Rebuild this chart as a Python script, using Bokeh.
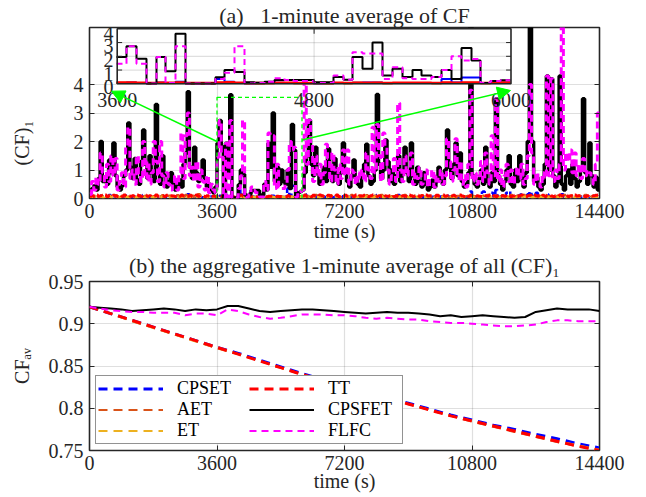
import numpy as np
from bokeh.plotting import figure
from bokeh.models import (Range1d, FixedTicker, LinearAxis, Arrow, NormalHead,
                          Legend, LegendItem, CustomJSTickFormatter, Title)
from bokeh.layouts import column
from bokeh.core.properties import value
from bokeh.embed import file_html
from bokeh.resources import INLINE

# ---------------- data ----------------
N_MIN = 240                      # 1-minute bins over 14400 s
XTICKS = [0, 3600, 7200, 10800, 14400]
Y1_TICKS = [0, 1, 2, 3, 4]
Y2_TICKS = [0.75, 0.8, 0.85, 0.9, 0.95]
INSET_XTICKS = [3600, 4800, 6000]
INSET_YTICKS = [0, 1, 2, 3, 4]
INSET_X = (3600, 6000)
INSET_Y = (0, 4)

CPSFET_1 = [
 0.3,0.35,0.45,0.3,0.7,2.0,0.6,0.75,0.5,1.35, 0.9,1.95,0.8,0.4,0.3,0.45,0.8,1.0,2.65,1.1,
 0.7,1.4,0.65,0.5,1.3,2.4,1.2,0.7,1.5,0.9, 0.6,3.3,1.0,0.5,1.5,0.8,0.4,0.6,0.9,0.5,
 0.3,0.5,0.65,0.4,1.2,1.6,3.75,1.1,0.7,1.8, 0.9,0.6,0.8,1.35,0.7,0.4,0.5,0.3,0.2,0.4,
 1.94,2.74,1.82,0.02,1.94,0.92,3.64,0.02,0.02,0.02, 0.48,1.0,0.85,0.12,0.07,0.15,0.28,0.28,0.28,0.28,
 0.12,0.12,0.5,0.3,1.94,1.1,3.0,0.6,1.1,0.5, 1.0,0.6,0.5,1.0,0.35,2.6,1.7,0.05,0.2,0.25,
 0.3,0.9,1.5,2.75,1.2,0.8,1.8,0.9,0.5,0.7, 1.1,0.6,1.75,0.9,0.6,1.4,0.8,0.5,0.9,1.95,
 1.0,0.6,0.4,0.8,1.35,0.7,0.5,0.4,0.9,1.2, 1.9,0.8,0.5,0.6,1.0,3.65,1.2,0.7,1.0,2.05,
 1.3,0.6,1.0,0.5,0.8,1.5,0.6,0.9,1.8,0.9, 0.6,1.95,0.8,0.5,1.1,0.6,0.4,0.9,0.5,0.3,
 0.4,0.65,0.4,0.6,1.1,0.7,0.5,1.0,2.4,1.1, 0.7,1.2,1.95,0.8,1.6,0.6,0.4,0.5,0.9,6.5,
 0.8,0.5,0.4,0.7,1.0,0.5,1.8,0.6,0.4,0.9, 0.6,3.5,0.8,0.5,0.3,0.6,1.0,1.5,0.5,0.4,
 1.0,0.6,1.5,0.7,0.4,0.9,2.0,6.5,2.0,0.6, 0.75,0.4,0.3,0.5,1.2,4.3,1.0,4.2,0.8,0.4,
 0.6,4.3,0.5,0.3,0.8,1.0,0.5,1.2,0.7,0.4, 0.6,1.0,3.5,0.9,0.5,1.95,0.8,0.4,0.75,0.3]

FLFC_1 = [
 0.15,0.6,0.3,0.75,0.5,1.6,0.9,0.4,1.2,0.6, 1.5,0.8,1.4,0.3,0.6,0.9,0.4,1.8,2.5,0.7,
 1.0,0.5,1.5,0.8,0.6,2.0,0.7,1.3,0.5,0.9, 2.0,1.3,0.6,2.0,0.8,0.4,0.9,0.5,0.3,0.6,
 0.8,0.3,0.9,2.3,0.7,2.2,3.0,0.8,1.1,0.6, 1.3,0.4,1.0,0.6,0.3,0.8,0.2,0.5,0.3,0.2,
 1.45,2.74,1.45,0.02,1.94,0.05,2.74,0.02,0.02,0.02, 0.35,0.8,2.74,0.02,0.05,0.15,0.4,0.28,0.2,0.2,
 0.05,0.05,0.6,0.3,2.3,2.2,2.2,0.35,1.2,0.4, 0.35,0.35,0.5,1.0,2.0,1.7,1.8,0.05,0.2,0.25,
 0.3,4.5,1.2,2.75,2.0,0.6,1.5,0.8,1.2,0.5, 0.9,1.9,1.4,0.6,1.6,1.0,0.5,1.2,0.7,1.7,
 0.8,1.7,0.5,1.0,0.9,0.5,0.9,0.7,1.0,0.6, 1.6,1.0,0.7,2.5,0.9,2.6,1.5,0.6,2.3,1.8,
 1.0,0.5,0.8,1.4,0.6,3.35,1.0,0.6,1.5,0.8, 1.0,1.6,0.5,0.9,0.7,1.1,0.5,0.6,1.0,0.4,
 0.7,1.0,0.4,0.8,0.6,1.0,0.5,0.8,2.1,1.3, 0.6,1.0,2.1,0.7,1.3,0.5,0.8,0.4,1.2,3.8,
 0.6,0.9,0.5,0.8,1.3,0.6,1.6,0.9,0.5,2.2, 0.8,3.5,0.6,1.0,0.4,0.8,1.2,0.6,1.0,0.5,
 0.8,1.1,0.7,1.2,0.5,0.7,1.5,4.0,1.6,0.5, 0.9,0.6,0.4,0.9,0.7,4.3,0.8,4.2,0.6,1.0,
 0.7,1.2,6.5,1.0,1.6,1.3,1.7,0.9,1.6,0.8, 1.2,0.7,1.4,0.8,1.0,0.9,0.7,0.5,1.2,3.0]

CPSET_1 = [
 0.05,0.04,0.06,0.05,0.08,0.1,0.05,0.04,0.06,0.12, 0.05,0.04,0.08,0.05,0.04,0.06,0.05,0.1,0.07,0.05,
 0.04,0.06,0.05,0.08,0.05,0.12,0.06,0.04,0.05,0.07, 0.05,0.1,0.06,0.04,0.05,0.08,0.05,0.04,0.06,0.05,
 0.04,0.05,0.07,0.05,0.09,0.06,0.15,0.05,0.04,0.06, 0.05,0.08,0.05,0.04,0.06,0.05,0.04,0.07,0.05,0.04,
 0.05,0.1,0.05,0.02,0.1,0.05,0.15,0.02,0.02,0.03, 0.35,0.15,0.05,0.03,0.03,0.05,0.08,0.06,0.05,0.05,
 0.03,0.03,0.05,0.05,0.08,0.1,0.1,0.05,0.06,0.05, 0.05,0.05,0.06,0.35,0.1,0.45,0.45,0.05,0.05,0.06,
 0.05,0.15,0.06,0.08,0.05,0.04,0.06,0.1,0.05,0.04, 0.06,0.05,0.08,0.05,0.04,0.05,0.06,0.05,0.04,0.08,
 0.05,0.04,0.06,0.05,0.1,0.05,0.04,0.06,0.05,0.05, 0.08,0.05,0.04,0.06,0.05,0.12,0.05,0.04,0.06,0.1,
 0.05,0.04,0.05,0.06,0.05,0.12,0.05,0.04,0.08,0.05, 0.04,0.06,0.05,0.04,0.05,0.07,0.05,0.04,0.06,0.05,
 0.04,0.06,0.05,0.04,0.05,0.07,0.05,0.04,0.1,0.06, 0.05,0.06,0.08,0.05,0.07,0.05,0.04,0.05,0.06,0.25,
 0.05,0.04,0.06,0.05,0.2,0.25,0.08,0.05,0.15,0.2, 0.05,0.3,0.06,0.05,0.04,0.05,0.2,0.25,0.05,0.04,
 0.06,0.05,0.2,0.05,0.04,0.05,0.15,0.25,0.1,0.05, 0.2,0.05,0.04,0.05,0.06,0.15,0.05,0.12,0.05,0.04,
 0.05,0.1,0.15,0.05,0.06,0.08,0.05,0.07,0.05,0.04, 0.05,0.06,0.12,0.05,0.04,0.08,0.05,0.04,0.05,0.05]

AET_1 = [
 0.06,0.08,0.1,0.07,0.05,0.09,0.12,0.06,0.08,0.1, 0.07,0.06,0.11,0.08,0.05,0.09,0.07,0.12,0.06,0.08,
 0.09,0.06,0.08,0.11,0.07,0.05,0.1,0.08,0.12,0.06, 0.08,0.09,0.05,0.07,0.11,0.08,0.06,0.1,0.07,0.05,
 0.08,0.11,0.06,0.09,0.07,0.12,0.05,0.08,0.1,0.06, 0.07,0.15,0.09,0.06,0.08,0.05,0.1,0.07,0.06,0.09,
 0.08,0.08,0.06,0.04,0.07,0.06,0.08,0.04,0.04,0.04, 0.08,0.1,0.06,0.04,0.04,0.05,0.06,0.06,0.05,0.05,
 0.05,0.04,0.06,0.05,0.07,0.06,0.07,0.05,0.06,0.06, 0.06,0.06,0.05,0.08,0.06,0.08,0.08,0.05,0.06,0.08,
 0.07,0.1,0.06,0.09,0.05,0.08,0.12,0.07,0.06,0.1, 0.08,0.05,0.09,0.11,0.07,0.06,0.1,0.08,0.05,0.09,
 0.06,0.09,0.07,0.12,0.08,0.05,0.1,0.06,0.09,0.07, 0.11,0.06,0.08,0.05,0.1,0.07,0.09,0.12,0.06,0.08,
 0.1,0.06,0.08,0.05,0.11,0.07,0.09,0.06,0.12,0.08, 0.05,0.09,0.07,0.1,0.06,0.08,0.11,0.05,0.07,0.09,
 0.07,0.1,0.06,0.08,0.12,0.05,0.09,0.07,0.11,0.06, 0.08,0.1,0.05,0.09,0.07,0.12,0.06,0.08,0.1,0.07,
 0.09,0.06,0.11,0.07,0.08,0.1,0.05,0.12,0.07,0.09, 0.06,0.1,0.08,0.05,0.11,0.07,0.09,0.06,0.12,0.08,
 0.06,0.1,0.08,0.05,0.12,0.09,0.07,0.1,0.06,0.08, 0.11,0.05,0.09,0.07,0.12,0.06,0.08,0.1,0.07,0.05,
 0.1,0.07,0.09,0.12,0.06,0.08,0.05,0.11,0.07,0.09, 0.1,0.06,0.08,0.12,0.05,0.09,0.07,0.1,0.08,0.06]

ET_1 = [
 0.04,0.05,0.06,0.04,0.07,0.05,0.04,0.06,0.05,0.08, 0.04,0.05,0.06,0.04,0.05,0.07,0.04,0.06,0.05,0.04,
 0.06,0.04,0.05,0.07,0.04,0.06,0.05,0.04,0.08,0.05, 0.04,0.06,0.05,0.04,0.07,0.05,0.06,0.04,0.05,0.06,
 0.05,0.07,0.04,0.06,0.05,0.08,0.04,0.05,0.06,0.04, 0.05,0.1,0.06,0.04,0.05,0.04,0.07,0.05,0.04,0.06,
 0.06,0.06,0.05,0.03,0.05,0.04,0.06,0.03,0.03,0.03, 0.06,0.07,0.05,0.03,0.03,0.04,0.05,0.05,0.04,0.04,
 0.04,0.03,0.05,0.04,0.05,0.05,0.05,0.04,0.05,0.05, 0.05,0.05,0.04,0.06,0.05,0.06,0.06,0.04,0.05,0.06,
 0.05,0.07,0.04,0.06,0.05,0.04,0.08,0.05,0.04,0.06, 0.05,0.04,0.06,0.07,0.05,0.04,0.06,0.05,0.04,0.06,
 0.04,0.06,0.05,0.08,0.05,0.04,0.06,0.04,0.06,0.05, 0.07,0.04,0.05,0.04,0.06,0.05,0.06,0.08,0.04,0.05,
 0.06,0.04,0.05,0.04,0.07,0.05,0.06,0.04,0.08,0.05, 0.04,0.06,0.05,0.06,0.04,0.05,0.07,0.04,0.05,0.06,
 0.05,0.06,0.04,0.05,0.08,0.04,0.06,0.05,0.07,0.04, 0.05,0.06,0.04,0.06,0.05,0.08,0.04,0.05,0.06,0.05,
 0.06,0.04,0.07,0.05,0.05,0.06,0.04,0.08,0.05,0.06, 0.04,0.06,0.05,0.04,0.07,0.05,0.06,0.04,0.08,0.05,
 0.04,0.06,0.05,0.04,0.08,0.06,0.05,0.06,0.04,0.05, 0.07,0.04,0.06,0.05,0.08,0.04,0.05,0.06,0.05,0.04,
 0.06,0.05,0.06,0.08,0.04,0.05,0.04,0.07,0.05,0.06, 0.06,0.04,0.05,0.08,0.04,0.06,0.05,0.06,0.05,0.04]

TT_1 = [
 0.08,0.1,0.06,0.12,0.08,0.1,0.09,0.12,0.07,0.1, 0.08,0.11,0.09,0.07,0.1,0.08,0.12,0.09,0.1,0.08,
 0.1,0.07,0.12,0.09,0.08,0.1,0.11,0.08,0.1,0.07, 0.09,0.12,0.08,0.1,0.09,0.07,0.11,0.08,0.1,0.09,
 0.07,0.1,0.08,0.12,0.09,0.1,0.08,0.11,0.07,0.09, 0.12,0.08,0.1,0.09,0.07,0.1,0.08,0.06,0.09,0.07,
 0.1,0.1,0.08,0.06,0.08,0.08,0.1,0.06,0.05,0.05, 0.1,0.12,0.08,0.05,0.05,0.06,0.07,0.08,0.06,0.06,
 0.06,0.05,0.07,0.06,0.08,0.08,0.08,0.06,0.08,0.07, 0.07,0.07,0.06,0.1,0.08,0.1,0.1,0.06,0.07,0.1,
 0.09,0.12,0.08,0.1,0.07,0.11,0.09,0.08,0.12,0.1, 0.07,0.09,0.11,0.08,0.1,0.09,0.12,0.07,0.1,0.08,
 0.11,0.08,0.1,0.09,0.07,0.12,0.08,0.1,0.09,0.11, 0.08,0.07,0.1,0.12,0.09,0.08,0.1,0.07,0.11,0.09,
 0.08,0.1,0.12,0.07,0.09,0.11,0.08,0.1,0.09,0.07, 0.12,0.1,0.08,0.09,0.11,0.07,0.1,0.08,0.12,0.09,
 0.1,0.08,0.07,0.11,0.09,0.1,0.12,0.08,0.1,0.07, 0.09,0.11,0.08,0.1,0.12,0.09,0.07,0.1,0.08,0.11,
 0.09,0.12,0.1,0.08,0.07,0.11,0.1,0.09,0.12,0.08, 0.1,0.07,0.11,0.09,0.1,0.08,0.12,0.1,0.07,0.09,
 0.11,0.08,0.1,0.12,0.09,0.07,0.1,0.11,0.08,0.12, 0.09,0.1,0.07,0.11,0.08,0.1,0.12,0.09,0.07,0.1,
 0.08,0.12,0.1,0.09,0.11,0.07,0.1,0.08,0.12,0.09, 0.1,0.11,0.08,0.07,0.1,0.12,0.09,0.1,0.11,0.12]

# aggregative average (panel b)
T_300 = list(range(0, 14401, 300))
CPSFET_AV = [0.920,0.919,0.918,0.917,0.915,0.916,0.917,0.918,0.917,0.915,0.917,0.916,0.917,
             0.921,0.921,0.918,0.915,0.914,0.915,0.916,0.917,0.917,0.916,0.915,0.914,0.913,
             0.912,0.913,0.914,0.913,0.913,0.912,0.911,0.909,0.910,0.908,0.909,0.910,0.909,
             0.908,0.907,0.908,0.914,0.916,0.918,0.917,0.917,0.917,0.915]
FLFC_AV = [0.920,0.918,0.916,0.915,0.914,0.914,0.913,0.913,0.913,0.910,0.912,0.912,0.910,
           0.917,0.915,0.911,0.908,0.906,0.907,0.909,0.911,0.911,0.911,0.910,0.910,0.909,
           0.907,0.906,0.907,0.906,0.905,0.905,0.903,0.902,0.901,0.901,0.900,0.899,0.898,
           0.897,0.897,0.898,0.899,0.902,0.904,0.904,0.903,0.903,0.903]
T_600 = list(range(0, 14401, 600))
CPSET_AV = [0.920,0.912,0.904,0.896,0.888,0.880,0.872,0.865,0.857,0.849,0.841,0.834,0.827,
            0.820,0.813,0.806,0.799,0.792,0.786,0.780,0.775,0.769,0.764,0.758,0.753]
AET_AV = [0.920,0.912,0.904,0.896,0.888,0.880,0.872,0.864,0.856,0.848,0.840,0.833,0.826,
          0.819,0.812,0.805,0.798,0.791,0.784,0.778,0.772,0.766,0.760,0.755,0.750]
ET_AV = [0.920,0.912,0.903,0.895,0.887,0.879,0.871,0.864,0.856,0.848,0.840,0.833,0.826,
         0.819,0.812,0.805,0.798,0.791,0.785,0.779,0.773,0.767,0.761,0.756,0.751]
TT_AV = [0.920,0.912,0.904,0.896,0.888,0.880,0.872,0.864,0.856,0.848,0.840,0.833,0.826,
         0.819,0.812,0.805,0.798,0.791,0.785,0.779,0.773,0.767,0.761,0.755,0.750]

NAMES = ["CPSET", "AET", "ET", "TT", "CPSFET", "FLFC"]
COLORS = {"CPSET": "#0000FF", "AET": "#D95319", "ET": "#EDB120",
          "TT": "#FF0000", "CPSFET": "#000000", "FLFC": "#FF00FF"}

NBSP = "\u00a0"
TITLE_A = "(a)" + NBSP * 3 + "1-minute average of CF"
TITLE_B = "(b) the aggregative 1-minute average of all (CF)\u2081"
XLABEL = "time (s)"
YLABEL_A = "(CF)\u2081" + NBSP * 12 + "\u200b"
YLABEL_B = "CF\u2090\u1d65"

# ---------------- styling helpers ----------------
FONT = "Liberation Serif"
TXT = "#262626"
GREEN = "#00FF00"


def base_fig(height, b_top, b_bottom, yr, yticks, title, title_standoff, ylabel, ylabel_standoff):
    p = figure(width=646, height=height, x_range=Range1d(0, 14400), y_range=Range1d(*yr),
               output_backend="svg", toolbar_location=None,
               min_border_left=89, min_border_right=47,
               min_border_top=b_top, min_border_bottom=b_bottom)
    p.background_fill_color = "white"
    p.border_fill_color = "white"
    p.outline_line_color = TXT
    p.outline_line_width = 1.6
    p.title = Title(text=title, align="center", text_font=FONT, text_font_size="22px",
                    text_font_style="normal", text_color=TXT, standoff=title_standoff)
    p.xaxis.ticker = FixedTicker(ticks=XTICKS)
    p.yaxis.ticker = FixedTicker(ticks=yticks)
    p.xgrid.ticker = FixedTicker(ticks=XTICKS)
    p.ygrid.ticker = FixedTicker(ticks=yticks)
    for g in (p.xgrid[0], p.ygrid[0]):
        g.grid_line_color = TXT
        g.grid_line_alpha = 0.15
        g.grid_line_width = 1.2
    for ax in (p.xaxis[0], p.yaxis[0]):
        ax.axis_line_color = None
        ax.major_tick_in = 5
        ax.major_tick_out = 0
        ax.minor_tick_line_color = None
        ax.major_tick_line_color = TXT
        ax.major_label_text_font = FONT
        ax.major_label_text_font_size = "20px"
        ax.major_label_text_color = TXT
        ax.axis_label_text_font = FONT
        ax.axis_label_text_font_size = "20px"
        ax.axis_label_text_font_style = "normal"
        ax.axis_label_text_color = TXT
    p.xaxis.major_label_standoff = 5
    p.yaxis.major_label_standoff = 6
    p.xaxis.axis_label = XLABEL
    p.yaxis.axis_label = ylabel
    p.yaxis.axis_label_standoff = ylabel_standoff
    return p


def mirror_axis(p, ticks, side):
    ax = LinearAxis(ticker=FixedTicker(ticks=ticks), axis_line_color=None,
                    major_tick_in=5, major_tick_out=0, minor_tick_line_color=None,
                    major_tick_line_color=TXT, major_label_text_font_size="0px",
                    major_label_standoff=0, major_label_text_color=None)
    p.add_layout(ax, side)


MIN_T = np.arange(N_MIN) * 60


def stairs(vals, i0=0, i1=N_MIN):
    v = np.asarray(vals[i0:i1], dtype=float)
    return np.append(MIN_T[i0:i1], i1 * 60), np.append(v, v[-1])

# ---------------- panel (a) ----------------
p1 = base_fig(247, 27, 49, (0, 6), Y1_TICKS, TITLE_A, 0, YLABEL_A, 38)
p1.xaxis.axis_label_standoff = -1
mirror_axis(p1, Y1_TICKS, "right")

top_series = [("CPSET", CPSET_1, 2.5, "7 4"), ("AET", AET_1, 2.5, "7 4"), ("ET", ET_1, 2.5, "7 4"),
              ("TT", TT_1, 3, "7 4"), ("CPSFET", CPSFET_1, 3.5, "solid"), ("FLFC", FLFC_1, 3, "7 4")]
for name, vals, lw, dash in top_series:
    xs, ys = stairs(vals)
    p1.step(xs, ys, mode="after", line_color=COLORS[name], line_width=lw, line_dash=dash)

# green zoom rectangle
ZOOM_Y = (-0.03, 3.55)
p1.quad(left=[INSET_X[0]], right=[INSET_X[1]], bottom=[ZOOM_Y[0]], top=[ZOOM_Y[1]],
        fill_color=None, line_color=GREEN, line_width=1.3, line_dash="4 3")

# arrows from zoom box to inset
ARROWS = [(3600, 2.0, 621, 3.765), (6000, 2.05, 11887, 3.79)]
for xs_, ys_, xe_, ye_ in ARROWS:
    p1.add_layout(Arrow(end=NormalHead(size=13, fill_color=GREEN, line_color=GREEN),
                        x_start=xs_, y_start=ys_, x_end=xe_, y_end=ye_,
                        line_color=GREEN, line_width=1.5))

# inset (sub coordinate system)
INSET_TARGET_X = (782, 11901)
INSET_TARGET_Y = (4.025, 5.954)
sub = p1.subplot(x_source=Range1d(*INSET_X), y_source=Range1d(*INSET_Y),
                 x_target=Range1d(*INSET_TARGET_X), y_target=Range1d(*INSET_TARGET_Y))
sub.quad(left=[INSET_X[0]], right=[INSET_X[1]], bottom=[INSET_Y[0]], top=[INSET_Y[1]],
         fill_color="white", line_color=None)
sub.segment(x0=[4800], x1=[4800], y0=[INSET_Y[0]], y1=[INSET_Y[1]],
            line_color=TXT, line_alpha=0.15, line_width=1.2)
sub.segment(x0=[INSET_X[0]] * 3, x1=[INSET_X[1]] * 3, y0=INSET_YTICKS[1:4], y1=INSET_YTICKS[1:4],
            line_color=TXT, line_alpha=0.15, line_width=1.2)
i0, i1 = INSET_X[0] // 60, INSET_X[1] // 60
inset_series = [("CPSET", CPSET_1, 2, "solid"), ("AET", AET_1, 2, "solid"), ("ET", ET_1, 2, "solid"),
                ("TT", TT_1, 2.5, "solid"), ("CPSFET", CPSFET_1, 2, "solid"), ("FLFC", FLFC_1, 2, "6 4")]
for name, vals, lw, dash in inset_series:
    xs, ys = stairs(vals, i0, i1)
    sub.step(xs, ys, mode="after", line_color=COLORS[name], line_width=lw, line_dash=dash)
sub.quad(left=[INSET_X[0]], right=[INSET_X[1]], bottom=[INSET_Y[0]], top=[INSET_Y[1]],
         fill_color=None, line_color=TXT, line_width=1.6)
# inset ticks
sub.segment(x0=[INSET_X[0]] * 3, x1=[INSET_X[0] + 30] * 3, y0=INSET_YTICKS[1:4], y1=INSET_YTICKS[1:4],
            line_color=TXT, line_width=1)
sub.segment(x0=[INSET_X[1]] * 3, x1=[INSET_X[1] - 30] * 3, y0=INSET_YTICKS[1:4], y1=INSET_YTICKS[1:4],
            line_color=TXT, line_width=1)
sub.segment(x0=[4800, 4800], x1=[4800, 4800], y0=[INSET_Y[1], INSET_Y[0]],
            y1=[INSET_Y[1] - 0.36, INSET_Y[0] + 0.36], line_color=TXT, line_width=1)
sub.text(x=[INSET_X[0] - 22] * 5, y=[v - 0.27 for v in INSET_YTICKS], text=[str(v) for v in INSET_YTICKS],
         text_font=value(FONT), text_font_size="20px", text_color=TXT,
         text_align="right", text_baseline="middle")
sub.text(x=INSET_XTICKS, y=[-1.21] * 3, text=[str(v) for v in INSET_XTICKS],
         text_font=value(FONT), text_font_size="20px", text_color=TXT,
         text_align="center", text_baseline="middle")

# ---------------- panel (b) ----------------
p2 = base_fig(250, 32, 47, (0.75, 0.95), Y2_TICKS, TITLE_B, 7, YLABEL_B, 13)
p2.xaxis.axis_label_standoff = -3
p2.yaxis.formatter = CustomJSTickFormatter(code="return String(tick);")
mirror_axis(p2, Y2_TICKS, "right")
mirror_axis(p2, XTICKS, "above")

bottom_series = [("CPSET", T_600, CPSET_AV, 3, "9 6"), ("AET", T_600, AET_AV, 2, "9 6"),
                 ("ET", T_600, ET_AV, 2, "9 6"), ("TT", T_600, TT_AV, 3, "9 6"),
                 ("CPSFET", T_300, CPSFET_AV, 2, "solid"), ("FLFC", T_300, FLFC_AV, 2, "7 5")]
rends = {}
for name, t, vals, lw, dash in bottom_series:
    rends[name] = p2.line(t, vals, line_color=COLORS[name], line_width=lw, line_dash=dash)

legend = Legend(items=[LegendItem(label=n, renderers=[rends[n]]) for n in NAMES],
                ncols=2, location=(6, 6), margin=0, padding=2, spacing=0,
                glyph_width=65, glyph_height=17, label_height=17, label_width=72,
                label_standoff=14, label_text_font=FONT, label_text_font_size="18px",
                label_text_color="#000000", border_line_color=TXT, border_line_width=1.5,
                background_fill_color="white", background_fill_alpha=1.0)
p2.add_layout(legend)

layout = column(p1, p2, spacing=0)
open("out.html", "w").write(file_html(layout, INLINE))
